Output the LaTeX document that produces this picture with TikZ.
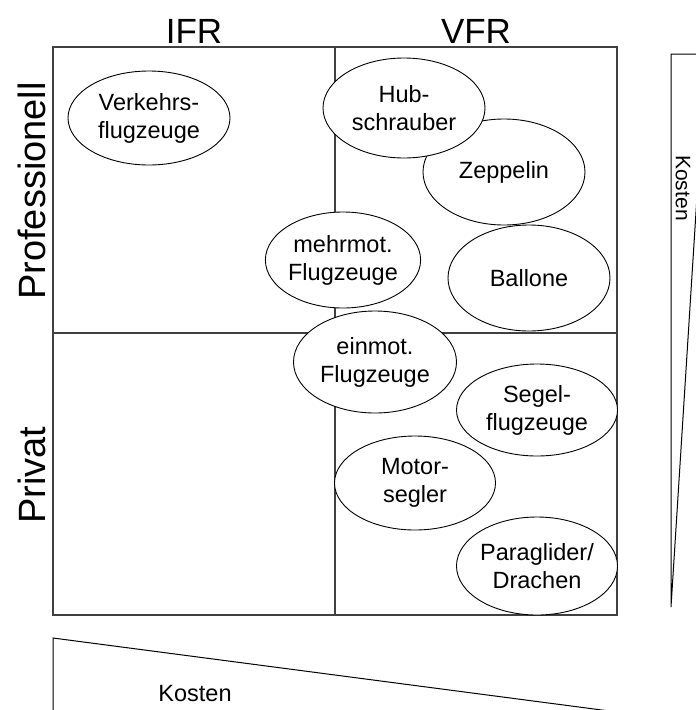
\documentclass[tikz,border=0pt]{standalone}
\usepackage{fontspec}
\setmainfont{Liberation Sans}
\usetikzlibrary{shapes.geometric}
\tikzset{
  gridline/.style={draw=black!75, line width=1.1pt},
  wedge/.style={draw=black, line width=1pt},
  craft/.style={ellipse, draw=black, line width=0.9pt, fill=white, inner sep=0pt,
    align=center, font=\fontsize{23.5}{28}\selectfont},
  colhead/.style={font=\fontsize{35}{40}\selectfont, inner sep=0pt},
  rowhead/.style={font=\fontsize{38}{44}\selectfont, inner sep=0pt, rotate=90},
  costlabel/.style={font=\fontsize{23.5}{28}\selectfont, inner sep=0pt}
}
\begin{document}
\begin{tikzpicture}[x=1pt, y=-1pt]
  \useasboundingbox (0,0) rectangle (696,710);
  \clip (0,0) rectangle (696,710);

  % quadrant grid
  \coordinate (tl) at (53,47);
  \coordinate (tm) at (335,47);
  \coordinate (tr) at (617,47);
  \coordinate (ml) at (53,333);
  \coordinate (mr) at (617,333);
  \coordinate (bl) at (53,615);
  \coordinate (bm) at (335,615);
  \coordinate (br) at (617,615);
  \draw[gridline] (tl) -- (tr) -- (br) -- (bl) -- cycle;
  \draw[gridline] (tm) -- (bm);
  \draw[gridline] (ml) -- (mr);

  % column and row headings
  \node[colhead] (ifr) at (194,31) {IFR};
  \node[colhead] (vfr) at (476,31) {VFR};
  \node[rowhead] (prof) at (32,191) {Professionell};
  \node[rowhead] (priv) at (32,475) {Privat};

  % cost wedges
  \coordinate (rw1) at (671,54);
  \coordinate (rw2) at (706,54);
  \coordinate (rw3) at (671,607);
  \draw[wedge] (rw2) -- (rw1) -- (rw3) -- cycle;
  \node[costlabel, font=\fontsize{21}{25}\selectfont, rotate=-90] (kr) at (683,188) {Kosten};

  \coordinate (bw1) at (53,638);
  \coordinate (bw2) at (617,712);
  \coordinate (bw3) at (53,712);
  \draw[wedge] (bw3) -- (bw1) -- (bw2) -- cycle;
  \node[costlabel] (kb) at (195,694) {Kosten};

  % aircraft categories
  \node[craft, minimum width=162pt, minimum height=94pt] (verkehr) at (149,118) {Verkehrs-\\flugzeuge};
  \node[craft, minimum width=162pt, minimum height=106pt] (zepp) at (504,172) {Zeppelin};
  \node[craft, minimum width=162pt, minimum height=100pt] (hub) at (404,108) {Hub-\\schrauber};
  \node[craft, minimum width=162pt, minimum height=106pt] (ball) at (529,278) {Ballone};
  \node[craft, minimum width=163pt, minimum height=102pt] (einmot) at (375,362) {einmot.\\Flugzeuge};
  \node[craft, minimum width=154pt, minimum height=96pt] (mehrmot) at (343,260) {mehrmot.\\Flugzeuge};
  \node[craft, minimum width=161pt, minimum height=92pt] (segel) at (537,410) {Segel-\\flugzeuge};
  \node[craft, minimum width=161pt, minimum height=94pt] (motor) at (415,483) {Motor-\\segler};
  \node[craft, minimum width=161pt, minimum height=98pt] (para) at (537,566) {Paraglider/\\Drachen};
\end{tikzpicture}
\end{document}
